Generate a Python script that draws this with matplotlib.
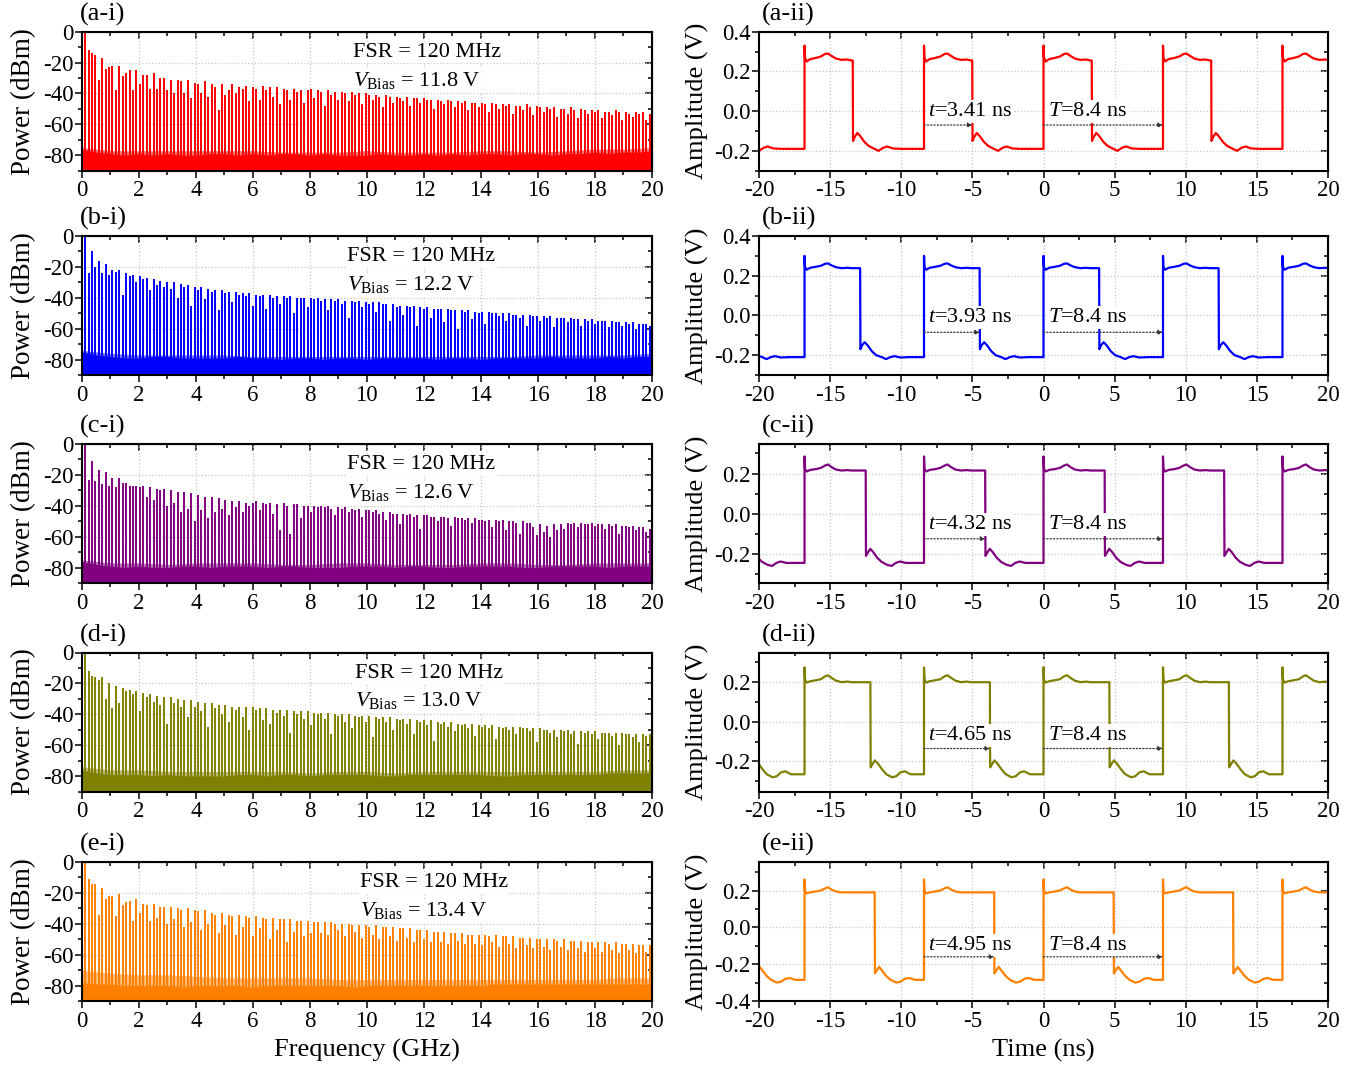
import matplotlib
matplotlib.use("Agg")
import matplotlib.pyplot as plt
from matplotlib.ticker import MultipleLocator, FormatStrFormatter

plt.rcParams["font.family"] = ["Liberation Serif", "DejaVu Serif"]
plt.rcParams["mathtext.fontset"] = "custom"
plt.rcParams["mathtext.rm"] = "Liberation Serif"
plt.rcParams["mathtext.it"] = "Liberation Serif:italic"
plt.rcParams["axes.unicode_minus"] = False

# ---------------- data ----------------
FSR_GHZ = 0.12
PERIOD_NS = 8.4
TAGS = ["a", "b", "c", "d", "e"]
COLORS = ["#ff0000", "#0000ff", "#800080", "#808000", "#ff8000"]
V_BIAS = ["11.8", "12.2", "12.6", "13.0", "13.4"]
T_HIGH = [3.41, 3.93, 4.32, 4.65, 4.95]

# comb line power (dBm), n = 0 (DC) ... 166, line n sits at n * FSR
PEAKS_A = [-48,
    0, -12, -14, -15, -31, -17, -24, -23, -22, -38,
    -22, -29, -27, -25, -38, -25, -34, -28, -28, -37,
    -27, -37, -30, -30, -38, -31, -40, -31, -32, -40,
    -31, -43, -33, -34, -40, -32, -42, -34, -36, -51,
    -34, -41, -38, -34, -40, -36, -37, -35, -45, -36,
    -37, -44, -35, -38, -36, -42, -36, -47, -37, -38,
    -44, -37, -39, -38, -46, -38, -37, -43, -38, -39,
    -48, -38, -41, -39, -44, -39, -40, -45, -39, -41,
    -40, -47, -40, -41, -44, -41, -42, -49, -41, -42,
    -46, -42, -43, -45, -42, -48, -43, -43, -46, -43,
    -44, -44, -50, -44, -45, -47, -44, -45, -49, -45,
    -46, -45, -51, -46, -46, -49, -46, -47, -52, -46,
    -47, -50, -47, -48, -47, -53, -48, -48, -51, -47,
    -49, -54, -48, -49, -52, -49, -50, -49, -55, -50,
    -50, -53, -49, -51, -56, -50, -51, -53, -51, -52,
    -51, -56, -52, -52, -54, -51, -52, -57, -52, -53,
    -55, -52, -53, -52, -57, -53]
PEAKS_B = [-48,
    0, -24, -10, -20, -16, -24, -18, -25, -22, -23,
    -22, -38, -24, -26, -25, -30, -26, -28, -27, -35,
    -28, -32, -29, -33, -30, -34, -30, -40, -31, -33,
    -32, -45, -33, -35, -33, -41, -34, -36, -35, -48,
    -35, -37, -36, -43, -36, -38, -37, -39, -37, -45,
    -38, -39, -38, -47, -38, -40, -39, -44, -39, -40,
    -39, -50, -40, -40, -40, -46, -40, -41, -40, -42,
    -41, -48, -41, -42, -41, -44, -42, -53, -42, -43,
    -42, -46, -43, -44, -43, -49, -43, -44, -44, -55,
    -44, -46, -45, -51, -45, -46, -45, -58, -46, -47,
    -46, -53, -47, -47, -47, -56, -47, -48, -48, -60,
    -48, -49, -48, -54, -49, -50, -49, -57, -49, -50,
    -50, -52, -50, -55, -50, -51, -51, -53, -51, -58,
    -51, -52, -52, -55, -52, -53, -52, -59, -53, -53,
    -53, -56, -53, -54, -54, -58, -54, -55, -54, -57,
    -55, -55, -55, -59, -55, -56, -56, -58, -56, -57,
    -56, -60, -57, -57, -57, -58]
PEAKS_C = [-48,
    0, -23, -11, -24, -17, -26, -18, -27, -22, -28,
    -22, -25, -25, -27, -27, -27, -28, -27, -34, -28,
    -36, -29, -30, -29, -40, -30, -38, -31, -44, -31,
    -42, -32, -50, -33, -43, -34, -48, -34, -44, -35,
    -42, -36, -46, -37, -41, -37, -44, -38, -40, -38,
    -37, -43, -38, -39, -38, -45, -39, -56, -38, -40,
    -58, -39, -39, -48, -40, -40, -44, -40, -41, -40,
    -41, -40, -42, -46, -41, -42, -41, -44, -42, -43,
    -42, -47, -43, -43, -44, -43, -45, -44, -49, -44,
    -45, -45, -52, -45, -46, -45, -47, -46, -55, -46,
    -46, -47, -47, -50, -47, -47, -48, -53, -47, -48,
    -48, -49, -48, -51, -48, -49, -49, -50, -49, -54,
    -49, -50, -49, -56, -50, -50, -51, -58, -50, -51,
    -51, -54, -59, -52, -57, -53, -60, -52, -56, -52,
    -55, -51, -52, -51, -54, -51, -52, -52, -51, -53,
    -52, -52, -55, -52, -53, -52, -58, -53, -53, -54,
    -53, -56, -54, -54, -57, -55]
PEAKS_D = [-48,
    0, -12, -15, -16, -18, -16, -30, -20, -36, -22,
    -33, -23, -25, -24, -27, -25, -38, -26, -29, -27,
    -32, -28, -34, -29, -46, -29, -33, -30, -35, -31,
    -42, -31, -35, -32, -38, -33, -48, -33, -36, -34,
    -40, -34, -45, -35, -37, -35, -42, -35, -50, -35,
    -37, -36, -44, -36, -46, -37, -39, -37, -41, -37,
    -52, -38, -40, -38, -43, -38, -47, -39, -40, -39,
    -43, -39, -53, -40, -41, -40, -45, -40, -49, -41,
    -42, -41, -45, -41, -55, -42, -43, -42, -45, -42,
    -50, -43, -44, -43, -46, -43, -53, -44, -45, -44,
    -47, -44, -57, -45, -46, -45, -48, -45, -51, -46,
    -47, -46, -49, -46, -54, -47, -48, -47, -49, -47,
    -56, -48, -49, -48, -50, -48, -53, -48, -49, -49,
    -51, -49, -58, -49, -50, -50, -52, -50, -55, -50,
    -51, -50, -53, -51, -59, -51, -52, -51, -53, -51,
    -56, -52, -52, -52, -54, -52, -60, -52, -53, -53,
    -55, -53, -58, -53, -54, -53]
PEAKS_E = [-50,
    0, -11, -14, -14, -34, -17, -24, -22, -22, -35,
    -21, -28, -26, -25, -38, -24, -33, -27, -28, -38,
    -27, -36, -29, -29, -40, -29, -37, -30, -31, -42,
    -30, -39, -31, -32, -44, -31, -40, -33, -34, -46,
    -33, -41, -34, -35, -47, -34, -42, -35, -36, -48,
    -35, -43, -36, -37, -50, -36, -44, -37, -37, -52,
    -37, -45, -38, -38, -48, -38, -46, -39, -39, -46,
    -39, -47, -39, -40, -44, -40, -48, -40, -41, -45,
    -41, -49, -41, -42, -47, -41, -50, -42, -42, -48,
    -42, -51, -43, -43, -49, -43, -52, -44, -44, -50,
    -44, -52, -45, -45, -52, -45, -53, -46, -46, -51,
    -46, -53, -47, -47, -53, -47, -54, -47, -48, -52,
    -47, -55, -48, -48, -53, -48, -56, -49, -49, -54,
    -49, -56, -50, -50, -55, -50, -57, -50, -51, -55,
    -50, -57, -51, -51, -56, -51, -58, -52, -52, -56,
    -52, -58, -52, -53, -57, -52, -59, -53, -53, -57,
    -53, -59, -54, -54, -58, -54]
PEAKS = [PEAKS_A, PEAKS_B, PEAKS_C, PEAKS_D, PEAKS_E]

# noise floor top (dBm) at 0, 0.5, ... 20 GHz
FLOOR_F = [k * 0.5 for k in range(41)]
FLOOR_A = [-76, -78, -79, -80, -79, -80, -79, -80, -80, -79, -79, -80, -79, -80,
           -79, -79, -80, -79, -80, -80, -80, -79, -80, -80, -79, -80, -79, -80,
           -79, -79, -80, -79, -79, -80, -79, -79, -78, -79, -78, -78, -77]
FLOOR_B = [-75, -77, -78, -79, -79, -78, -78, -79, -79, -79, -79, -78, -79, -79,
           -80, -79, -79, -80, -79, -79, -80, -79, -79, -79, -79, -80, -79, -79,
           -80, -79, -79, -79, -79, -78, -79, -79, -79, -78, -79, -78, -78]
FLOOR_C = [-76, -78, -79, -80, -79, -80, -80, -79, -79, -80, -79, -79, -79, -80,
           -79, -79, -80, -80, -80, -79, -79, -79, -80, -79, -79, -80, -80, -79,
           -79, -79, -79, -80, -80, -79, -79, -79, -79, -80, -79, -79, -79]
FLOOR_D = [-76, -78, -79, -79, -79, -80, -79, -80, -80, -80, -80, -79, -79, -80,
           -79, -79, -80, -79, -79, -79, -79, -80, -80, -79, -79, -79, -79, -79,
           -79, -80, -80, -79, -79, -79, -79, -79, -79, -78, -78, -78, -78]
FLOOR_E = [-78, -79, -79, -80, -80, -80, -80, -81, -80, -80, -80, -80, -81, -80,
           -80, -80, -80, -80, -80, -81, -80, -80, -80, -80, -80, -80, -80, -80,
           -80, -79, -79, -79, -79, -79, -79, -79, -79, -79, -79, -79, -79]
FLOORS = [FLOOR_A, FLOOR_B, FLOOR_C, FLOOR_D, FLOOR_E]
# spiky part of the floor, 0, 1, ... 20 GHz
SPIKE_F = list(range(21))
SPIKES_A = [-75, -77, -77, -77, -77, -77, -77, -78, -78, -78, -77,
            -78, -78, -78, -77, -77, -78, -77, -76, -76, -75]
SPIKES_B = [-74, -76, -77, -77, -77, -77, -78, -78, -78, -78, -78,
            -78, -78, -78, -78, -78, -77, -77, -77, -77, -76]
SPIKES_C = [-75, -77, -77, -78, -77, -77, -77, -78, -78, -77, -77,
            -78, -78, -78, -77, -77, -78, -78, -77, -77, -77]
SPIKES_D = [-74, -76, -76, -77, -77, -77, -77, -77, -78, -77, -77,
            -78, -77, -77, -77, -77, -77, -77, -77, -76, -76]
SPIKES_E = [-70, -72, -73, -73, -74, -75, -75, -75, -75, -76, -76,
            -76, -76, -76, -76, -76, -76, -76, -76, -75, -75]
SPIKES = [SPIKES_A, SPIKES_B, SPIKES_C, SPIKES_D, SPIKES_E]

# pulse train: rising edges (ns) and one-period shape
RISE_EDGES = [-25.2, -16.8, -8.4, 0.0, 8.4, 16.8]
HI_DT = [0.0, 0.03, 0.15, 0.4, 0.8, 1.15, 1.45, 1.65, 1.9, 2.2, 2.6, 3.0, 3.3]
LO_DT = [0.0, 0.12, 0.3, 0.5, 0.8, 1.1, 1.5, 1.8, 2.1, 2.4, 2.8, 3.4]
HI_V = [
    [0.33, 0.27, 0.25, 0.262, 0.268, 0.275, 0.288, 0.29, 0.278, 0.265, 0.258, 0.26, 0.255],
    [0.30, 0.245, 0.23, 0.24, 0.245, 0.25, 0.26, 0.262, 0.252, 0.243, 0.238, 0.24, 0.238],
    [0.285, 0.225, 0.21, 0.218, 0.222, 0.228, 0.24, 0.245, 0.232, 0.22, 0.215, 0.217, 0.215],
    [0.275, 0.215, 0.198, 0.205, 0.21, 0.215, 0.23, 0.235, 0.222, 0.208, 0.20, 0.203, 0.20],
    [0.26, 0.20, 0.185, 0.19, 0.195, 0.20, 0.212, 0.218, 0.205, 0.195, 0.19, 0.19, 0.19],
]
LO_V = [
    [-0.15, -0.13, -0.11, -0.125, -0.155, -0.175, -0.19, -0.20, -0.185, -0.178, -0.188, -0.19],
    [-0.17, -0.15, -0.135, -0.15, -0.18, -0.20, -0.21, -0.22, -0.21, -0.205, -0.212, -0.21],
    [-0.21, -0.195, -0.175, -0.19, -0.22, -0.24, -0.255, -0.26, -0.245, -0.238, -0.245, -0.245],
    [-0.23, -0.215, -0.195, -0.21, -0.24, -0.265, -0.28, -0.275, -0.255, -0.25, -0.265, -0.265],
    [-0.25, -0.235, -0.215, -0.235, -0.265, -0.285, -0.30, -0.295, -0.28, -0.275, -0.285, -0.285],
]

# ---------------- layout ----------------
W, H = 1354, 1065
ROW_TOPS = [31.7, 236, 444, 652.5, 862]
AX_H = 139
LEFT_X, LEFT_W = 81.7, 570.3
RIGHT_X, RIGHT_W = 759, 569
YLIMS_R = [(-0.3, 0.4), (-0.3, 0.4), (-0.345, 0.347), (-0.352, 0.35), (-0.4, 0.355)]
YTICKS_R = [[-0.2, 0.0, 0.2, 0.4], [-0.2, 0.0, 0.2, 0.4], [-0.2, 0.0, 0.2],
            [-0.2, 0.0, 0.2], [-0.4, -0.2, 0.0, 0.2]]
ANN_Y = [(0.0, -0.07), (-0.01, -0.085), (-0.055, -0.125), (-0.067, -0.135), (-0.10, -0.16)]
TXT_X = [0.475, 0.466, 0.466, 0.479, 0.488]

fig = plt.figure(figsize=(W / 100, H / 100), dpi=100)


def style(ax):
    for s in ax.spines.values():
        s.set_linewidth(1.5)
    ax.tick_params(which="both", labelsize=16.5, width=1.1)
    ax.tick_params(which="major", length=5, pad=2)
    ax.tick_params(which="minor", length=3)
    ax.tick_params(axis="y", which="major", pad=1)
    ax.grid(True, which="major", color="#c8c8c8", linestyle=":", linewidth=0.9)
    ax.set_axisbelow(True)
    # ticks pointing inwards on top / right
    sec = ax.secondary_xaxis("top")
    sec.set_xticks(ax.get_xticks())
    sec.xaxis.set_minor_locator(ax.xaxis.get_minor_locator())
    sec.tick_params(which="both", direction="in", labeltop=False, width=1.1)
    sec.tick_params(which="major", length=5)
    sec.tick_params(which="minor", length=3)
    secy = ax.secondary_yaxis("right")
    secy.set_yticks(ax.get_yticks())
    secy.yaxis.set_minor_locator(ax.yaxis.get_minor_locator())
    secy.tick_params(which="both", direction="in", labelright=False, width=1.1)
    secy.tick_params(which="major", length=5)
    secy.tick_params(which="minor", length=3)


for i in range(5):
    col = COLORS[i]
    y0 = 1 - (ROW_TOPS[i] + AX_H) / H

    # -------- spectrum --------
    ax = fig.add_axes([LEFT_X / W, y0, LEFT_W / W, AX_H / H])
    freqs = [n * FSR_GHZ for n in range(len(PEAKS[i]))]
    ax.fill_between(SPIKE_F, -90, SPIKES[i], color=col, alpha=0.55, lw=0, zorder=2)
    ax.fill_between(FLOOR_F, -90, FLOORS[i], color=col, lw=0, zorder=2)
    ax.vlines(freqs, -90, PEAKS[i], color=col, lw=1.4, zorder=2)
    ax.set_xlim(0, 20)
    ax.set_ylim(-90, 0)
    ax.xaxis.set_major_locator(MultipleLocator(2))
    ax.xaxis.set_minor_locator(MultipleLocator(1))
    ax.set_yticks([-80, -60, -40, -20, 0])
    ax.yaxis.set_minor_locator(MultipleLocator(10))
    style(ax)
    ax.set_ylabel("Power (dBm)", fontsize=19.5)
    ax.yaxis.set_label_coords(-0.08, 0.5)
    ax.text(-0.004, 1.125, f"({TAGS[i]}-i)", transform=ax.transAxes,
            fontsize=19, ha="left", va="center")
    bb = dict(facecolor="white", edgecolor="none", pad=1)
    ax.text(TXT_X[i], 0.818, "FSR = 120 MHz", transform=ax.transAxes,
            fontsize=16, ha="left", va="baseline", bbox=bb, zorder=5)
    ax.text(TXT_X[i], 0.612, r"$V_{\mathrm{Bias}}$ = " + V_BIAS[i] + " V",
            transform=ax.transAxes, fontsize=16, ha="left", va="baseline",
            bbox=bb, zorder=5)
    if i == 4:
        ax.set_xlabel("Frequency (GHz)", fontsize=19)
        ax.xaxis.set_label_coords(0.5, -0.27)

    # -------- time trace --------
    ax = fig.add_axes([RIGHT_X / W, y0, RIGHT_W / W, AX_H / H])
    th = T_HIGH[i]
    xs, ys = [], []
    for r in RISE_EDGES:
        xs.append(r)
        ys.append(LO_V[i][-1])
        xs += [r + d for d in HI_DT]
        ys += HI_V[i]
        xs.append(r + th - 0.02)
        ys.append(HI_V[i][-1])
        xs += [r + th + d for d in LO_DT]
        ys += LO_V[i]
        xs.append(r + PERIOD_NS - 0.02)
        ys.append(LO_V[i][-1])
    ax.plot(xs, ys, color=col, lw=1.6, zorder=2)
    ax.set_xlim(-20, 20)
    ax.set_ylim(*YLIMS_R[i])
    ax.xaxis.set_major_locator(MultipleLocator(5))
    ax.xaxis.set_minor_locator(MultipleLocator(2.5))
    ax.set_yticks(YTICKS_R[i])
    ax.yaxis.set_minor_locator(MultipleLocator(0.1))
    ax.yaxis.set_major_formatter(FormatStrFormatter("%.1f"))
    style(ax)
    ax.set_ylabel("Amplitude (V)", fontsize=19)
    ax.yaxis.set_label_coords(-0.088, 0.5)
    ax.text(0.005, 1.125, f"({TAGS[i]}-ii)", transform=ax.transAxes,
            fontsize=19, ha="left", va="center")

    ty, ay = ANN_Y[i]
    bb = dict(facecolor="white", edgecolor="none", pad=1.5)
    ax.text(-8.15, ty, rf"$t$={th:.2f} ns", fontsize=16, ha="left", va="center",
            bbox=bb, zorder=4)
    ax.text(0.3, ty, r"$T$=8.4 ns", fontsize=16, ha="left", va="center",
            bbox=bb, zorder=4)
    arrow = dict(arrowstyle="-|>", linestyle=":", lw=0.9, color="#333333",
                 mutation_scale=7, shrinkA=0, shrinkB=0)
    ax.annotate("", xy=(-8.4 + th, ay), xytext=(-8.4, ay), arrowprops=arrow, zorder=5)
    ax.annotate("", xy=(8.4, ay), xytext=(0.0, ay), arrowprops=arrow, zorder=5)
    if i == 4:
        ax.set_xlabel("Time (ns)", fontsize=19)
        ax.xaxis.set_label_coords(0.5, -0.27)

fig.savefig("out.png", dpi=100)
